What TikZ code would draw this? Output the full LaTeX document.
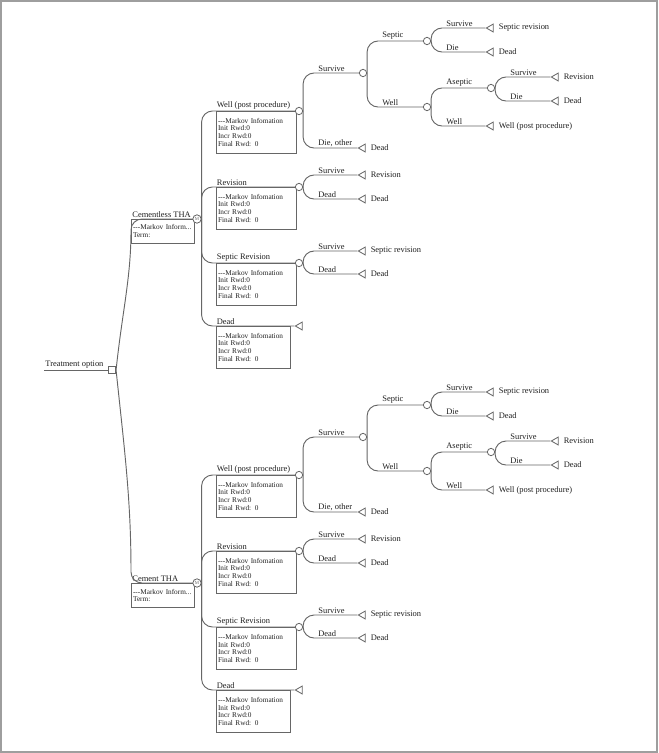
\documentclass[tikz,border=0pt]{standalone}
\usepackage{fontspec}
\setmainfont{Liberation Serif}
\usetikzlibrary{shapes.geometric}

\definecolor{linegray}{gray}{0.4}
\definecolor{framegray}{gray}{0.62}
\definecolor{txtgray}{gray}{0.12}

\newcommand{\markovinfo}{-{}-{}-Markov Infomation\\Init Rwd:0\\Incr Rwd:0\\Final Rwd: 0}

\begin{document}
\begin{tikzpicture}[x=0.03cm,y=-0.03cm,
	branch/.style={draw=linegray,line width=0.8pt,rounded corners=3.3mm},
	lbl/.style={anchor=south west,inner sep=1pt,font=\fontsize{7.2}{8}\selectfont,text=txtgray},
	blbl/.style={lbl,pos=0.5,xshift=4.1mm},
	tlbl/.style={anchor=west,inner sep=1pt,xshift=1.1mm,font=\fontsize{7.2}{8}\selectfont,text=txtgray},
	chance/.style={circle,draw=linegray,line width=0.7pt,fill=white,minimum size=2.2mm,inner sep=0pt},
	markov/.style={chance,minimum size=2.5mm,font=\fontsize{4}{4}\selectfont,text=linegray},
	term/.style={isosceles triangle,isosceles triangle stretches,shape border rotate=180,draw=linegray,line width=0.7pt,fill=white,minimum width=2.4mm,minimum height=2.1mm,inner sep=0pt},
	decision/.style={rectangle,draw=linegray,line width=0.7pt,fill=white,minimum size=2.2mm,inner sep=0pt},
	infobox/.style={rectangle,draw=linegray,line width=0.7pt,anchor=north west,minimum width=2.4cm,minimum height=1.26cm,text width=2.3cm,inner xsep=0.05cm,align=left,font=\fontsize{6.2}{6.7}\selectfont,text=txtgray}]
	\useasboundingbox (0,0) rectangle (658,753);
	%frame
	\draw[framegray,line width=1.5pt] (0.8,0.8) rectangle (657.2,752.2);

	%root
	\coordinate (start) at (44,370);
	\node[decision] (root) at (112,370) {};
	\node[lbl] (rootlbl) at (start) {Treatment option};
	\draw[branch] (start) -- (root.west);

	%the two arms
	\foreach \a/\dy/\arm in {cl/0/Cementless THA,ce/364/Cement THA}{
	\begin{scope}[shift={(0,\dy)}]
	%Markov node
	\node[infobox,minimum width=1.89cm,minimum height=0.72cm,text width=1.8cm] (\a-box) at (131,219) {-{}-{}-Markov Inform...\\Term:};
	\node[lbl] (\a-lbl) at (\a-box.north west) {\arm};
	\node[markov] (\a-m) at (197,219) {M};

	%states
	\node[infobox] (\a-wbox) at (216,111) {\markovinfo};
	\node[infobox] (\a-rbox) at (216,187) {\markovinfo};
	\node[infobox] (\a-sbox) at (216,263) {\markovinfo};
	\node[infobox,minimum width=2.22cm,text width=2.12cm] (\a-dbox) at (216,326) {\markovinfo};
	\node[chance] (\a-w) at (299,111) {};
	\node[chance] (\a-r) at (299,187) {};
	\node[chance] (\a-s) at (299,263) {};
	\node[term] (\a-d) at (300,326) {};

	%chance nodes
	\node[chance] (\a-ws) at (363,73) {};
	\node[chance] (\a-wsS) at (427,41) {};
	\node[chance] (\a-wsW) at (427,107) {};
	\node[chance] (\a-wsWA) at (491,88) {};

	%terminals
	\node[term] (\a-wsSs) at (491,28) {};
	\node[tlbl] (\a-wsSst) at (\a-wsSs.east) {Septic revision};
	\node[term] (\a-wsSd) at (491,52) {};
	\node[tlbl] (\a-wsSdt) at (\a-wsSd.east) {Dead};
	\node[term] (\a-wsWAs) at (556,77) {};
	\node[tlbl] (\a-wsWAst) at (\a-wsWAs.east) {Revision};
	\node[term] (\a-wsWAd) at (556,101) {};
	\node[tlbl] (\a-wsWAdt) at (\a-wsWAd.east) {Dead};
	\node[term] (\a-wsWw) at (491,126) {};
	\node[tlbl] (\a-wsWwt) at (\a-wsWw.east) {Well (post procedure)};
	\node[term] (\a-wd) at (363,148) {};
	\node[tlbl] (\a-wdt) at (\a-wd.east) {Dead};
	\node[term] (\a-rs) at (363,175) {};
	\node[tlbl] (\a-rst) at (\a-rs.east) {Revision};
	\node[term] (\a-rd) at (363,199) {};
	\node[tlbl] (\a-rdt) at (\a-rd.east) {Dead};
	\node[term] (\a-ss) at (363,251) {};
	\node[tlbl] (\a-sst) at (\a-ss.east) {Septic revision};
	\node[term] (\a-sd) at (363,274) {};
	\node[tlbl] (\a-sdt) at (\a-sd.east) {Dead};

	%Markov branches
	\draw[branch] (\a-m.east) |- node[blbl] (\a-wl) {Well (post procedure)} (\a-w.west);
	\draw[branch] (\a-m.east) |- node[blbl] (\a-rl) {Revision} (\a-r.west);
	\draw[branch] (\a-m.east) |- node[blbl] (\a-sl) {Septic Revision} (\a-s.west);
	\draw[branch] (\a-m.east) |- node[blbl] (\a-dl) {Dead} (\a-d.apex);

	%Well (post procedure)
	\draw[branch] (\a-w.east) |- node[blbl] (\a-wsl) {Survive} (\a-ws.west);
	\draw[branch] (\a-w.east) |- node[blbl] (\a-wdl) {Die, other} (\a-wd.apex);
	\draw[branch] (\a-ws.east) |- node[blbl] (\a-wsSl) {Septic} (\a-wsS.west);
	\draw[branch] (\a-ws.east) |- node[blbl] (\a-wsWl) {Well} (\a-wsW.west);
	\draw[branch] (\a-wsS.east) |- node[blbl] (\a-wsSsl) {Survive} (\a-wsSs.apex);
	\draw[branch] (\a-wsS.east) |- node[blbl] (\a-wsSdl) {Die} (\a-wsSd.apex);
	\draw[branch] (\a-wsW.east) |- node[blbl] (\a-wsWAl) {Aseptic} (\a-wsWA.west);
	\draw[branch] (\a-wsW.east) |- node[blbl] (\a-wsWwl) {Well} (\a-wsWw.apex);
	\draw[branch] (\a-wsWA.east) |- node[blbl] (\a-wsWAsl) {Survive} (\a-wsWAs.apex);
	\draw[branch] (\a-wsWA.east) |- node[blbl] (\a-wsWAdl) {Die} (\a-wsWAd.apex);

	%Revision
	\draw[branch] (\a-r.east) |- node[blbl] (\a-rsl) {Survive} (\a-rs.apex);
	\draw[branch] (\a-r.east) |- node[blbl] (\a-rdl) {Dead} (\a-rd.apex);

	%Septic Revision
	\draw[branch] (\a-s.east) |- node[blbl] (\a-ssl) {Survive} (\a-ss.apex);
	\draw[branch] (\a-s.east) |- node[blbl] (\a-sdl) {Dead} (\a-sd.apex);
	\end{scope}}

	%root to arms
	\draw[branch] (root.east) to[out=84,in=-90] (cl-box.north west) -- (cl-m.west);
	\draw[branch] (root.east) to[out=-84,in=90] (ce-box.north west) -- (ce-m.west);
\end{tikzpicture}
\end{document}
